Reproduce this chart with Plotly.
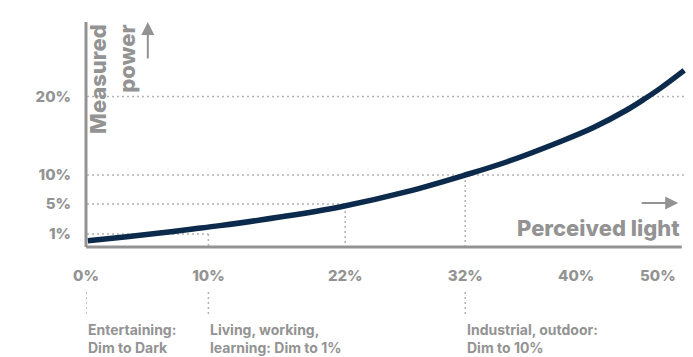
import plotly.graph_objects as go

# curve, in chart units (x: 0-100 across the axis, y: 0-100 up the axis)
perceived = [0.3, 6.8, 12.3, 17.8, 22.3, 32.3, 42.3, 53.5, 63.2, 70.2, 79.0, 84.5, 90.2, 93.2, 95.7, 99.7]
measured = [2.8, 4.6, 6.2, 8.0, 9.5, 13.3, 17.8, 24.6, 32.0, 37.9, 46.8, 53.0, 61.0, 66.0, 70.5, 78.5]

x_tick_pos = [0, 20.4, 43.2, 63.2, 81.7, 95.3]
x_tick_text = ['0%', '10%', '22%', '32%', '40%', '50%']
y_tick_pos = [5.8, 19.1, 32.0, 66.9]
y_tick_text = ['1%', '5%', '10%', '20%']

use_case_x = [0, 20.4, 63.2]
use_case_text = [
    'Entertaining:<br>Dim to Dark',
    'Living, working,<br>learning: Dim to 1%',
    'Industrial, outdoor:<br>Dim to 10%',
]

GREY = '#939393'
DOT = '#b3b3b3'
NAVY = '#0c2a4b'
FONT = 'Inter'

fig = go.Figure()
fig.add_trace(
    go.Scatter(
        x=perceived,
        y=measured,
        mode='lines',
        line={'color': NAVY, 'width': 5.5, 'shape': 'spline', 'smoothing': 1.0},
        hoverinfo='skip',
    )
)

dot_line = {'color': DOT, 'width': 1.5, 'dash': '2px,3px'}

# horizontal guides (start a bit left of the axis)
h_ends = {5.8: 20.4, 19.1: 43.2, 32.0: 100, 66.9: 100}
for yv in y_tick_pos:
    fig.add_shape(type='line', xref='x', yref='y', x0=-1.5, x1=h_ends[yv], y0=yv, y1=yv,
                  line=dot_line, layer='below')

# vertical guides from the curve down past the axis
for xv, yv in [(20.4, 5.8), (43.2, 16.0), (63.2, 32.0)]:
    fig.add_shape(type='line', xref='x', yref='y', x0=xv, x1=xv, y0=yv, y1=-4.9,
                  line=dot_line, layer='below')

# short connectors to the use-case notes
for xv in use_case_x:
    fig.add_shape(type='line', xref='x', yref='paper', x0=xv, x1=xv, y0=-0.2, y1=-0.298,
                  line=dot_line)

# axis lines
fig.add_shape(type='line', xref='paper', yref='paper', x0=0, x1=0, y0=0, y1=1,
              line={'color': GREY, 'width': 3})
fig.add_shape(type='line', xref='paper', yref='paper', x0=0, x1=0.993, y0=0, y1=0,
              line={'color': GREY, 'width': 3})

for xv, txt in zip(use_case_x, use_case_text):
    fig.add_annotation(x=xv, xref='x', y=-0.318, yref='paper', text=txt, showarrow=False,
                       xanchor='left', yanchor='top', align='left',
                       font={'family': FONT, 'size': 14, 'color': GREY, 'weight': 'bold'})

# axis titles and arrows
fig.add_annotation(x=0.044, y=0.749, xref='paper', yref='paper', text='Measured<br>power',
                   textangle=-90, showarrow=False, align='right',
                   xanchor='center', yanchor='middle',
                   font={'family': FONT, 'size': 22, 'color': GREY, 'weight': 800})
fig.add_annotation(x=0.103, y=1.0, xref='paper', yref='paper', text='', showarrow=True,
                   ax=0, ay=38, arrowhead=2, arrowsize=1.3, arrowwidth=2, arrowcolor=GREY)
fig.add_annotation(x=0.993, y=0.084, xref='paper', yref='paper', text='Perceived light',
                   showarrow=False, xanchor='right', yanchor='middle',
                   font={'family': FONT, 'size': 22, 'color': GREY, 'weight': 800})
fig.add_annotation(x=0.987, y=0.196, xref='paper', yref='paper', text='', showarrow=True,
                   ax=-38, ay=0, arrowhead=2, arrowsize=1.3, arrowwidth=2, arrowcolor=GREY)

tick_font = {'family': FONT, 'size': 15, 'color': GREY, 'weight': 800}
fig.update_layout(
    width=693,
    height=357,
    margin={'l': 86, 'r': 7, 't': 22, 'b': 110},
    plot_bgcolor='white',
    paper_bgcolor='white',
    showlegend=False,
    xaxis={
        'range': [0, 100],
        'showgrid': False,
        'zeroline': False,
        'showline': False,
        'tickvals': x_tick_pos,
        'ticktext': x_tick_text,
        'ticks': '',
        'ticklabelstandoff': 18,
        'tickfont': tick_font,
        'fixedrange': True,
    },
    yaxis={
        'range': [0, 100],
        'showgrid': False,
        'zeroline': False,
        'showline': False,
        'tickvals': y_tick_pos,
        'ticktext': y_tick_text,
        'ticks': '',
        'ticklabelstandoff': 14,
        'tickfont': tick_font,
        'fixedrange': True,
    },
)

# drop the page's default body margin so the figure sits at the window's corner
fig.write_html('out.html', config={'displayModeBar': False},
               post_script="document.body.style.margin='0';")
